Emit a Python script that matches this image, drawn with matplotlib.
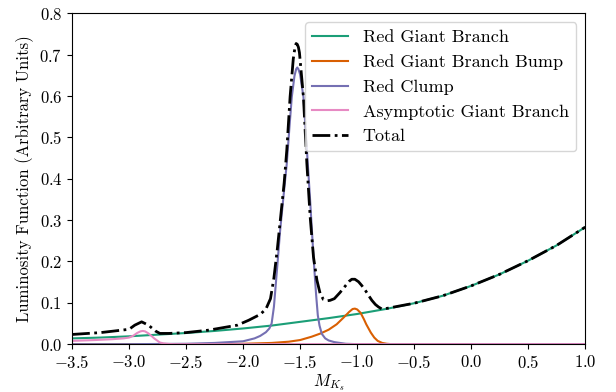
import matplotlib
matplotlib.use("Agg")
import matplotlib.pyplot as plt

plt.rcParams['font.family'] = 'serif'
plt.rcParams['font.serif'] = ['cmr10']
plt.rcParams['mathtext.fontset'] = 'cm'
plt.rcParams['axes.formatter.use_mathtext'] = True
plt.rcParams['axes.unicode_minus'] = True

# Red Giant Branch
rgb_x = [-3.5, -3.25, -3.0, -2.75, -2.5, -2.25, -2.0, -1.75, -1.5, -1.25, -1.0,
         -0.75, -0.5, -0.25, 0.0, 0.25, 0.5, 0.75, 1.0]
rgb_y = [0.014, 0.016, 0.019, 0.023, 0.027, 0.032, 0.038, 0.045, 0.054, 0.063, 0.073,
         0.085, 0.099, 0.117, 0.141, 0.169, 0.202, 0.239, 0.283]

# Red Giant Branch Bump
rgbb_x = [-3.5, -2.5, -2.0, -1.75, -1.6, -1.5, -1.4, -1.32, -1.25, -1.18, -1.12, -1.07,
          -1.04, -1.02, -1.0, -0.97, -0.94, -0.92, -0.88, -0.85, -0.82, -0.78, -0.74,
          -0.7, 0.0]
rgbb_y = [0.0, 0.0, 0.001, 0.003, 0.006, 0.010, 0.018, 0.026, 0.035, 0.048, 0.064, 0.078,
          0.085, 0.086, 0.084, 0.076, 0.060, 0.048, 0.028, 0.016, 0.008, 0.003, 0.001,
          0.0, 0.0]

# Red Clump
rc_x = [-3.5, -3.0, -2.75, -2.5, -2.25, -2.0, -1.9, -1.85, -1.8, -1.77, -1.75, -1.73,
        -1.7, -1.675, -1.645, -1.617, -1.595, -1.573, -1.55, -1.535, -1.525, -1.515,
        -1.5, -1.471, -1.452, -1.433, -1.415, -1.397, -1.38, -1.36, -1.345, -1.33,
        -1.31, -1.28, -1.25, -1.2, -1.1, -1.0, 0.0, 1.0]
rc_y = [0.0, 0.0, 0.0005, 0.001, 0.003, 0.007, 0.014, 0.020, 0.029, 0.038, 0.05, 0.09,
        0.19, 0.276, 0.36, 0.437, 0.52, 0.598, 0.648, 0.665, 0.669, 0.665,
        0.652, 0.598, 0.52, 0.437, 0.36, 0.276, 0.20, 0.12, 0.07, 0.045,
        0.025, 0.014, 0.009, 0.005, 0.001, 0.0, 0.0, 0.0]

# Asymptotic Giant Branch
agb_x = [-3.5, -3.3, -3.15, -3.05, -3.0, -2.96, -2.93, -2.9, -2.88, -2.86, -2.83, -2.8,
         -2.78, -2.75, -2.73, -2.7, -2.65, -2.6, -2.5, 1.0]
agb_y = [0.008, 0.010, 0.012, 0.014, 0.016, 0.021, 0.027, 0.031, 0.032, 0.031, 0.026, 0.019,
         0.014, 0.008, 0.004, 0.002, 0.0005, 0.0, 0.0, 0.0]

# Total
tot_x = [-3.5, -3.25, -3.0, -2.95, -2.89, -2.83, -2.77, -2.73, -2.65, -2.5, -2.3, -2.05,
         -1.95, -1.85, -1.8, -1.76, -1.73, -1.7, -1.67, -1.64, -1.617, -1.588, -1.56,
         -1.545, -1.535, -1.525, -1.515, -1.506, -1.471, -1.441, -1.412, -1.383, -1.353,
         -1.325, -1.296, -1.26, -1.237, -1.2, -1.15, -1.1, -1.07, -1.047, -1.02, -0.988,
         -0.96, -0.93, -0.9, -0.871, -0.84, -0.813, -0.783, -0.75, -0.5, -0.25, 0.0,
         0.25, 0.5, 0.75, 1.0]
tot_y = [0.0235, 0.028, 0.036, 0.046, 0.054, 0.046, 0.032, 0.026, 0.026, 0.028, 0.034, 0.046,
         0.058, 0.072, 0.085, 0.11, 0.16, 0.23, 0.31, 0.39, 0.469, 0.598, 0.69,
         0.718, 0.727, 0.725, 0.718, 0.705, 0.598, 0.437, 0.308, 0.211, 0.155,
         0.123, 0.108, 0.105, 0.106, 0.110, 0.125, 0.142, 0.152, 0.157, 0.157, 0.151,
         0.142, 0.131, 0.118, 0.106, 0.096, 0.090, 0.085, 0.086, 0.099, 0.117, 0.141,
         0.169, 0.202, 0.239, 0.283]

fig = plt.figure(figsize=(6.16, 3.92), dpi=100)
ax = fig.add_axes([0.117, 0.122, 0.833, 0.844])

ax.plot(rgb_x, rgb_y, color='#1b9e77', lw=1.5, label='Red Giant Branch')
ax.plot(rgbb_x, rgbb_y, color='#d95f02', lw=1.5, label='Red Giant Branch Bump')
ax.plot(rc_x, rc_y, color='#7570b3', lw=1.5, label='Red Clump')
ax.plot(agb_x, agb_y, color='#e78ac3', lw=1.5, label='Asymptotic Giant Branch')
ax.plot(tot_x, tot_y, color='black', lw=2, ls='-.', label='Total')

ax.set_xlim(-3.5, 1.0)
ax.set_ylim(0, 0.8)
ax.set_xticks([-3.5, -3.0, -2.5, -2.0, -1.5, -1.0, -0.5, 0.0, 0.5, 1.0])
ax.set_yticks([0.0, 0.1, 0.2, 0.3, 0.4, 0.5, 0.6, 0.7, 0.8])
ax.tick_params(labelsize=12)
ax.set_xlabel(r'$M_{K_s}$', fontsize=12, labelpad=1)
ax.set_ylabel('Luminosity Function (Arbitrary Units)', fontsize=12)
ax.legend(loc='upper right', fontsize=13)

fig.savefig('out.png', dpi=100)
